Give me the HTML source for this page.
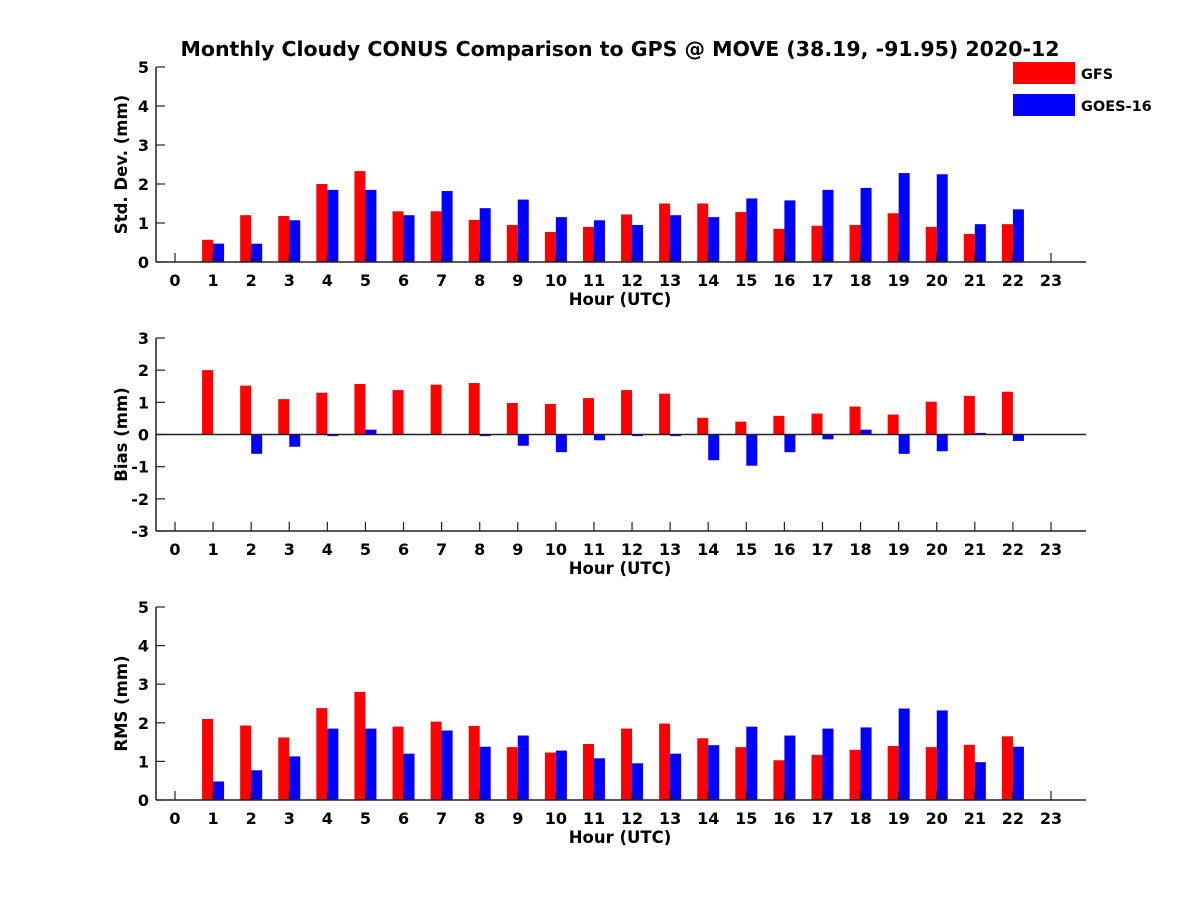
<!DOCTYPE html>
<html><head><meta charset="utf-8"><style>body{margin:0;background:#fff}svg text{font-family:"DejaVu Sans",sans-serif;font-weight:bold}</style></head>
<body>
<svg id="c" width="1200" height="900">
<text x="620" y="56" font-size="20.5" text-anchor="middle">Monthly Cloudy CONUS Comparison to GPS @ MOVE (38.19, -91.95) 2020-12</text>
<rect x="1013" y="62" width="62" height="22" fill="#ff0000"/>
<text x="1081" y="79" font-size="14.5">GFS</text>
<rect x="1013" y="94" width="62" height="22" fill="#0000ff"/>
<text x="1081" y="111" font-size="14.5">GOES-16</text>
</svg>
<script>
const hours=[1,2,3,4,5,6,7,8,9,10,11,12,13,14,15,16,17,18,19,20,21,22];
const stdGFS=[0.57,1.2,1.18,2.0,2.33,1.3,1.3,1.08,0.95,0.77,0.9,1.22,1.5,1.5,1.28,0.85,0.93,0.95,1.25,0.9,0.72,0.97];
const stdGOES=[0.47,0.47,1.07,1.85,1.85,1.2,1.82,1.38,1.6,1.15,1.07,0.95,1.2,1.15,1.63,1.58,1.85,1.9,2.28,2.25,0.97,1.35];
const biasGFS=[2.0,1.52,1.1,1.3,1.57,1.38,1.55,1.6,0.98,0.95,1.13,1.38,1.27,0.52,0.4,0.58,0.65,0.87,0.62,1.02,1.2,1.33];
const biasGOES=[0,-0.6,-0.38,-0.05,0.15,0.02,0,-0.05,-0.35,-0.55,-0.18,-0.05,-0.05,-0.8,-0.97,-0.55,-0.15,0.15,-0.6,-0.52,0.05,-0.2];
const rmsGFS=[2.1,1.93,1.62,2.38,2.8,1.9,2.03,1.92,1.37,1.23,1.45,1.85,1.98,1.6,1.37,1.03,1.17,1.3,1.4,1.37,1.43,1.65];
const rmsGOES=[0.48,0.77,1.13,1.85,1.85,1.2,1.8,1.38,1.67,1.28,1.08,0.95,1.2,1.42,1.9,1.67,1.85,1.88,2.37,2.32,0.98,1.38];
const xTicks=[0,1,2,3,4,5,6,7,8,9,10,11,12,13,14,15,16,17,18,19,20,21,22,23];
const svg=document.getElementById('c');const NS='http://www.w3.org/2000/svg';
function mk(t,a){const e=document.createElementNS(NS,t);for(const k in a)e.setAttribute(k,a[k]);svg.appendChild(e);return e;}
const X=h=>175+h*(1051-175)/23;
function panel(name,top,bot,ymin,ymax,yTicks,ylabel,g1,g2){
 const Y=v=>bot-(v-ymin)/(ymax-ymin)*(bot-top);
 const y0=Y(Math.max(ymin,0));
 hours.forEach((h,i)=>{
  [[g1[i],'#ff0000',-11,'gfs'],[g2[i],'#0000ff',0,'goes']].forEach(([v,c,o,s])=>{
   const yv=Y(v);const r=mk('rect',{x:X(h)+o,y:Math.min(yv,y0),width:11,height:Math.abs(yv-y0),fill:c});
   
   
  });
 });
 const ax=mk('path',{d:`M156 ${top}V${bot}M156 ${bot}H1086`,stroke:'#222','stroke-width':1.5,fill:'none'});
 
 if(ymin<0){const z=mk('line',{x1:156,x2:1086,y1:y0,y2:y0,stroke:'#222','stroke-width':1.5});}
 yTicks.forEach(t=>{mk('line',{x1:156,x2:165,y1:Y(t),y2:Y(t),stroke:'#222','stroke-width':1.2});
  const tx=mk('text',{x:149,y:Y(t)+6,'font-size':16,'text-anchor':'end'});tx.textContent=t;
  });
 xTicks.forEach(t=>{mk('line',{x1:X(t),x2:X(t),y1:bot,y2:bot-9,stroke:'#222','stroke-width':1.2});
  const tx=mk('text',{x:X(t),y:bot+24,'font-size':16,'text-anchor':'middle'});tx.textContent=t;
  });
 const xl=mk('text',{x:620,y:bot+43,'font-size':16.5,'text-anchor':'middle'});xl.textContent='Hour (UTC)';
 
 const cy=(top+bot)/2;const yl=mk('text',{x:127,y:cy,'font-size':16.5,'text-anchor':'middle',transform:`rotate(-90 127 ${cy})`});yl.textContent=ylabel;
 
}
panel('std',67,262,0,5,[0,1,2,3,4,5],'Std. Dev. (mm)',stdGFS,stdGOES);
panel('bias',338,531,-3,3,[-3,-2,-1,0,1,2,3],'Bias (mm)',biasGFS,biasGOES);
panel('rms',607,800,0,5,[0,1,2,3,4,5],'RMS (mm)',rmsGFS,rmsGOES);
</script>
</body></html>
